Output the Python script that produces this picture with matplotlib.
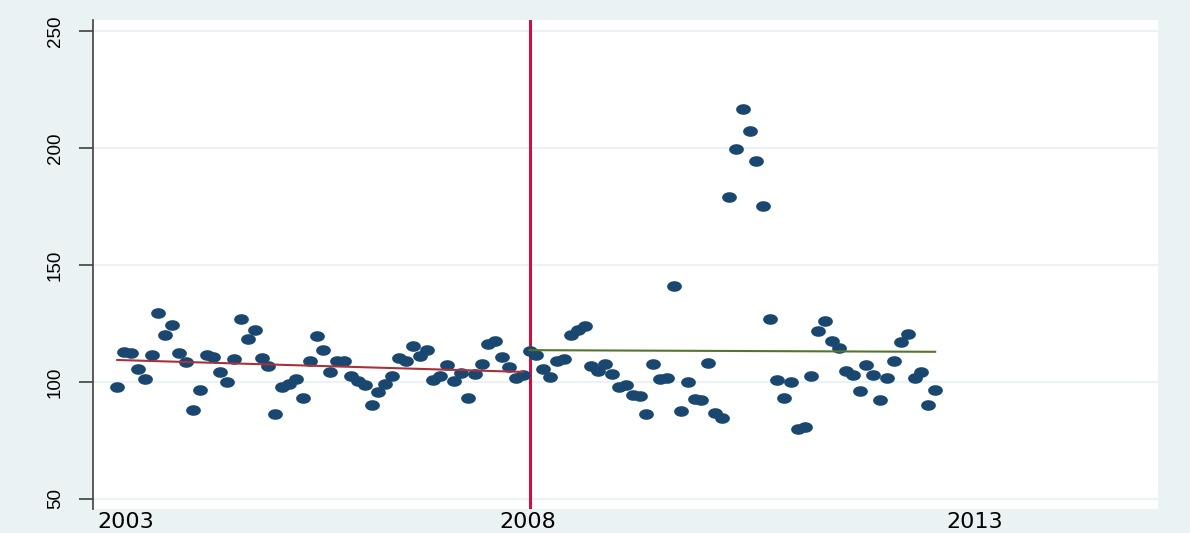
import numpy as np
import matplotlib
matplotlib.use("Agg")
import matplotlib.pyplot as plt
from matplotlib.path import Path

# Monthly values, 2003m1 - 2007m12 (before the break)
pre_values = [98.0, 113.0, 112.3, 105.7, 101.3, 111.4, 129.4, 120.2, 124.2, 112.3, 108.5, 87.9,
              96.6, 111.4, 110.7, 104.3, 99.9, 110.0, 127.1, 118.4, 122.4, 110.4, 106.8, 86.3,
              97.7, 99.1, 101.3, 93.0, 109.0, 119.5, 113.7, 104.3, 109.0, 109.0, 102.7, 100.4,
              98.7, 90.0, 95.9, 99.1, 102.4, 110.1, 109.0, 115.5, 111.0, 113.7, 100.9, 102.7,
              107.1, 100.3, 103.7, 93.3, 103.6, 107.8, 116.2, 117.4, 110.7, 106.3, 101.6, 103.0]

# Monthly values, 2008m1 - 2012m12 (after the break)
post_values = [113.4, 111.7, 105.4, 102.0, 109.0, 110.0, 120.1, 122.2, 123.9, 106.7, 104.7, 107.8,
               103.4, 97.7, 98.7, 94.3, 94.0, 86.3, 107.7, 101.3, 101.8, 140.9, 87.7, 100.1,
               92.6, 92.2, 108.3, 86.9, 84.7, 179.1, 199.5, 216.5, 207.4, 194.5, 175.4, 126.8,
               101.0, 93.0, 99.9, 79.9, 80.8, 102.7, 121.7, 126.1, 117.4, 114.4, 104.7, 103.1,
               96.3, 107.3, 103.0, 92.3, 101.7, 109.0, 117.0, 120.5, 101.8, 104.1, 90.0, 96.6]

# Fitted lines (end points)
fit_pre_x = [2003.0, 2007.917]
fit_pre_y = [109.4, 104.3]
fit_post_x = [2008.0, 2012.917]
fit_post_y = [113.6, 112.9]

break_year = 2008.0

# Axis labels
y_ticks = [50, 100, 150, 200, 250]
x_tick_pos = [2003.1, 2007.98, 2013.4]
x_tick_labels = ["2003", "2008", "2013"]

pre_months = 2003 + np.arange(len(pre_values)) / 12
post_months = 2008 + np.arange(len(post_values)) / 12

# Stata-like colours
fundo = "#eaf2f3"
azul = "#1a476f"

# Horizontally stretched dot, like the original
th = np.linspace(0, 2 * np.pi, 41)
ellipse = Path(np.column_stack([np.cos(th), 0.69 * np.sin(th)]), closed=True)

fig = plt.figure(figsize=(11.9, 5.33), dpi=100, facecolor=fundo)
ax = fig.add_axes([0.0782, 0.045, 0.895, 0.9174])
ax.set_facecolor("white")

ax.axvline(break_year, color="#cc1040", lw=2.2, zorder=1)
ax.plot(pre_months, pre_values, ls="none", marker=ellipse, ms=9.6, color=azul, zorder=2)
ax.plot(post_months, post_values, ls="none", marker=ellipse, ms=9.6, color=azul, zorder=2)
ax.plot(fit_pre_x, fit_pre_y, color="#a8323a", lw=1.5, zorder=3)
ax.plot(fit_post_x, fit_post_y, color="#55752f", lw=1.5, zorder=3)

ax.set_xlim(2002.707, 2015.62)
ax.set_ylim(45.7, 254.7)

ax.set_yticks(y_ticks)
ax.set_yticklabels([str(v) for v in y_ticks], rotation=90, va="center",
                   fontsize=13.5, family="Liberation Sans")
ax.yaxis.grid(True, color=fundo, lw=1.5)
ax.set_axisbelow(True)
ax.tick_params(axis="y", length=10, width=1.2, color="#404040", pad=11)

ax.set_xticks(x_tick_pos)
ax.set_xticklabels(x_tick_labels, fontsize=16)
ax.tick_params(axis="x", length=0, pad=2)

for s in ["top", "right", "bottom"]:
    ax.spines[s].set_visible(False)
ax.spines["left"].set_color("#404040")
ax.spines["left"].set_linewidth(1.2)

fig.savefig("out.png", dpi=100, facecolor=fundo)
